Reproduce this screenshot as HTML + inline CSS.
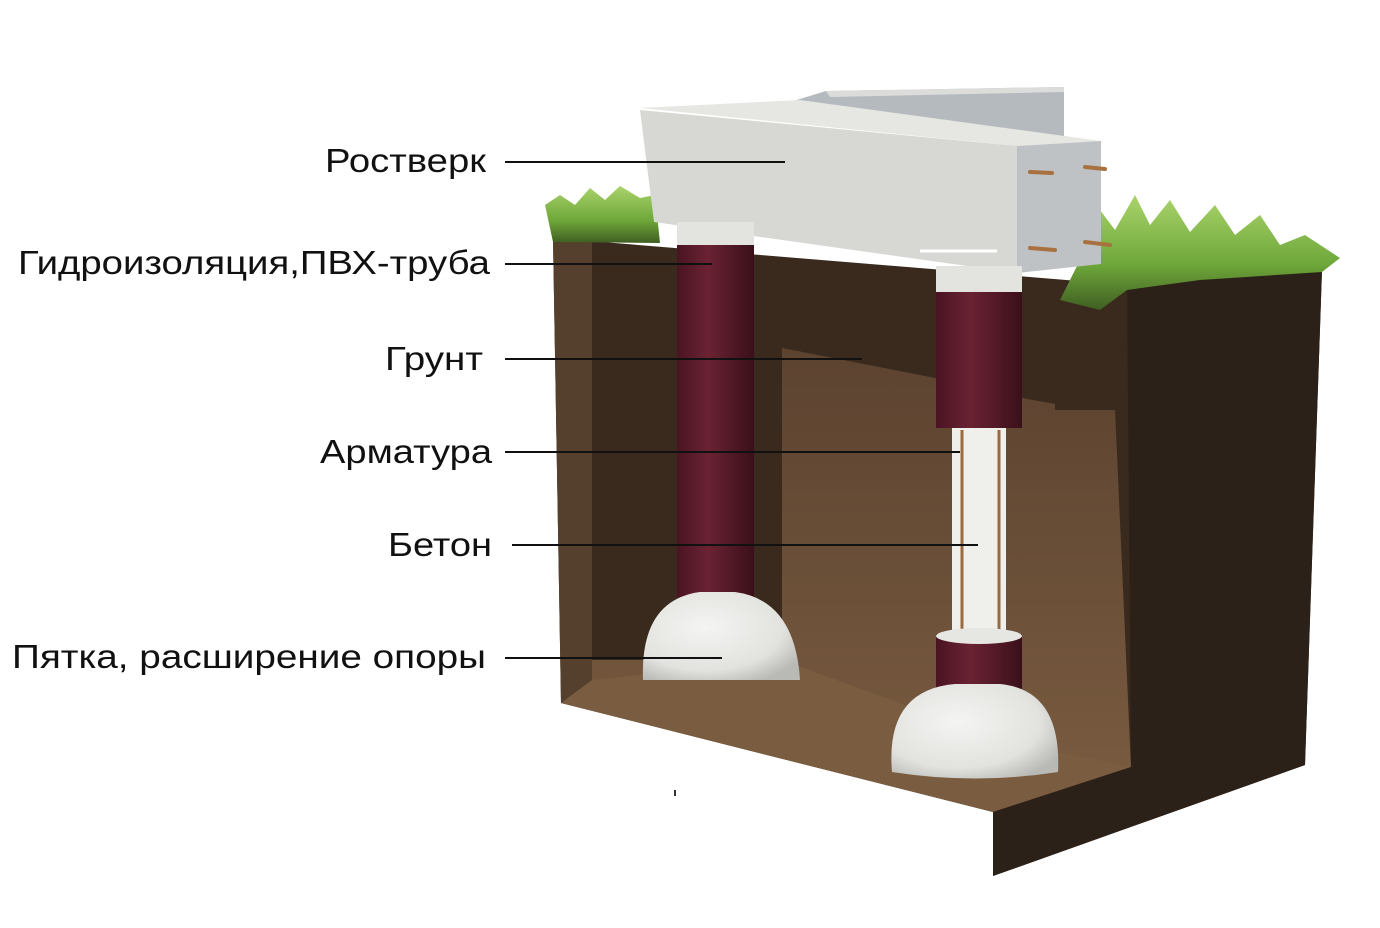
<!DOCTYPE html>
<html><head><meta charset="utf-8"><style>
html,body{margin:0;padding:0;background:#fff;}
svg{display:block;}
text{font-family:"Liberation Sans","DejaVu Sans",sans-serif;font-size:33px;fill:#111;}
</style></head><body>
<svg width="1380" height="928" viewBox="0 0 1380 928" xmlns="http://www.w3.org/2000/svg">
<defs>
<linearGradient id="grass" x1="0" y1="0" x2="0" y2="1">
<stop offset="0" stop-color="#a9d36b"/><stop offset="0.6" stop-color="#6fa83a"/><stop offset="1" stop-color="#3f5e22"/>
</linearGradient>
<linearGradient id="pipe" x1="0" y1="0" x2="1" y2="0">
<stop offset="0" stop-color="#4a1422"/><stop offset="0.4" stop-color="#6a2233"/><stop offset="1" stop-color="#3a1019"/>
</linearGradient>
<radialGradient id="dome" cx="0.4" cy="0.4" r="0.7">
<stop offset="0" stop-color="#f4f4f2"/><stop offset="0.7" stop-color="#e2e2df"/><stop offset="1" stop-color="#b9b9b6"/>
</radialGradient>
<linearGradient id="back" x1="0" y1="0" x2="0" y2="1">
<stop offset="0" stop-color="#5c4330"/><stop offset="1" stop-color="#7a5c40"/>
</linearGradient>
</defs>

<polygon points="553,238 1127,285 1322,270 1305,765 993,876 993,812 561,703" fill="#3a2a1d"/>
<polygon points="1127,285 1322,270 1305,765 993,876 993,812 1131,767" fill="#2c2119"/>
<polygon points="553,240 592,242 592,702 561,703" fill="#54402c"/>
<polygon points="782,348 935,378 1022,398 1055,404 1055,410 1115,410 1131,767 993,812 561,703 592,692 592,660 782,660" fill="url(#back)"/>
<polygon points="561,703 592,680 782,660 1000,740 1131,767 993,812" fill="#7a5c40"/>
<polygon points="993,812 1131,767 1131,780 993,876" fill="#2c2119"/>

<path d="M545,205 L560,195 L575,205 L590,188 L605,200 L620,186 L640,198 L655,195 L660,243 L553,242 Z" fill="url(#grass)"/>
<path d="M1060,300 L1085,250 L1100,210 L1115,230 L1135,195 L1150,225 L1170,200 L1190,232 L1215,205 L1235,235 L1260,215 L1280,245 L1305,235 L1340,258 L1322,272 L1200,280 L1127,290 L1100,310 Z" fill="url(#grass)"/>

<polygon points="790,102 826,91 1064,87 1064,137 1017,146" fill="#b4babd"/>
<polygon points="826,91 1064,87 1064,92 830,97" fill="#dcdcda"/>
<polygon points="640,108 800,100 1101,141 1017,146" fill="#e6e6e3"/>
<polygon points="640,110 1017,146 1017,273 654,222" fill="#d7d7d4"/>
<polygon points="1017,146 1101,141 1101,264 1017,273" fill="#bfc2c4"/>
<line x1="920" y1="251" x2="997" y2="251" stroke="#fff" stroke-width="3"/>
<g stroke="#a8713f" stroke-width="4" stroke-linecap="round">
<line x1="1030" y1="172" x2="1052" y2="173"/><line x1="1085" y1="167" x2="1105" y2="169"/>
<line x1="1030" y1="248" x2="1055" y2="250"/><line x1="1085" y1="242" x2="1110" y2="245"/>
</g>

<rect x="677" y="222" width="77" height="26" fill="#e3e3e0"/>
<rect x="677" y="245" width="77" height="365" fill="url(#pipe)"/>
<path d="M643,680 Q640,600 700,592 L735,592 Q795,600 800,680 Z" fill="url(#dome)"/>
<rect x="936" y="266" width="86" height="28" fill="#e3e3e0"/>
<rect x="936" y="292" width="86" height="136" fill="url(#pipe)"/>
<rect x="952" y="428" width="54" height="208" fill="#efefec"/>
<line x1="962" y1="430" x2="962" y2="630" stroke="#9a6a3e" stroke-width="3"/>
<line x1="999" y1="430" x2="999" y2="630" stroke="#9a6a3e" stroke-width="3"/>
<rect x="936" y="634" width="86" height="56" fill="url(#pipe)"/>
<ellipse cx="979" cy="636" rx="43" ry="8" fill="#e6e6e3"/>
<path d="M892,772 Q885,690 955,684 L1000,684 Q1062,690 1058,772 Q975,785 892,772 Z" fill="url(#dome)"/>
<line x1="675" y1="790" x2="675" y2="796" stroke="#333" stroke-width="2"/>

<text x="325" y="172" textLength="161" lengthAdjust="spacingAndGlyphs">Ростверк</text>
<text x="18" y="274" textLength="472" lengthAdjust="spacingAndGlyphs">Гидроизоляция,ПВХ-труба</text>
<text x="385" y="370" textLength="98" lengthAdjust="spacingAndGlyphs">Грунт</text>
<text x="320" y="463" textLength="172" lengthAdjust="spacingAndGlyphs">Арматура</text>
<text x="388" y="556" textLength="104" lengthAdjust="spacingAndGlyphs">Бетон</text>
<text x="12" y="668" textLength="474" lengthAdjust="spacingAndGlyphs">Пятка, расширение опоры</text>
<g stroke="#111" stroke-width="2">
<line x1="505" y1="162" x2="785" y2="162"/>
<line x1="505" y1="264" x2="712" y2="264"/>
<line x1="505" y1="359" x2="862" y2="359"/>
<line x1="505" y1="452" x2="960" y2="452"/>
<line x1="512" y1="545" x2="978" y2="545"/>
<line x1="505" y1="658" x2="722" y2="658"/>
</g>
</svg>
</body></html>
